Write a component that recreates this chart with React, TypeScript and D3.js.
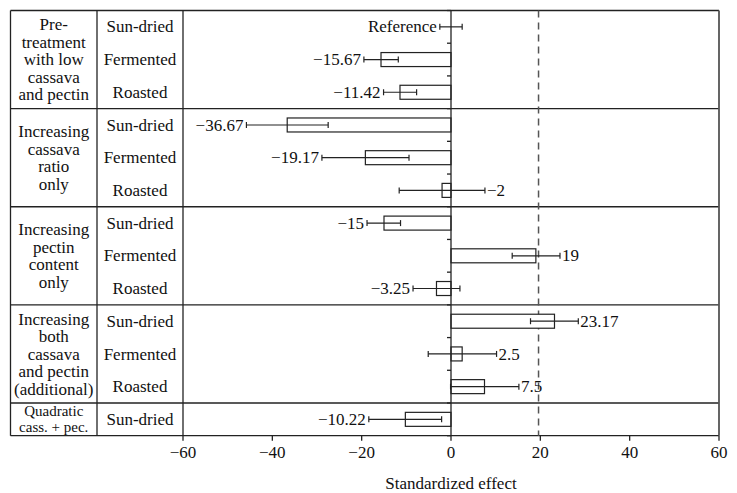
import React from "react";
import * as d3 from "d3";

const groupLabels: string[][] = [
  ["Pre-", "treatment", "with low", "cassava", "and pectin"],
  ["Increasing", "cassava", "ratio", "only"],
  ["Increasing", "pectin", "content", "only"],
  ["Increasing", "both", "cassava", "and pectin", "(additional)"],
  ["Quadratic", "cass. + pec."],
];
const groupSizes = [3, 3, 3, 3, 1];
const treatments = [
  "Sun-dried", "Fermented", "Roasted",
  "Sun-dried", "Fermented", "Roasted",
  "Sun-dried", "Fermented", "Roasted",
  "Sun-dried", "Fermented", "Roasted",
  "Sun-dried",
];
const effects = [0, -15.67, -11.42, -36.67, -19.17, -2, -15, 19, -3.25, 23.17, 2.5, 7.5, -10.22];
const ciLow = [-2.5, -19.5, -15.1, -45.8, -28.9, -11.6, -18.8, 13.7, -8.5, 17.8, -5.1, -0.1, -18.4];
const ciHigh = [2.5, -11.8, -7.7, -27.5, -9.4, 7.6, -11.3, 24.4, 2.0, 28.5, 10.2, 15.2, -2.1];
const valueLabels = ["Reference", "−15.67", "−11.42", "−36.67", "−19.17", "−2", "−15", "19", "−3.25", "23.17", "2.5", "7.5", "−10.22"];
const xTicks = [-60, -40, -20, 0, 20, 40, 60];
const xTickLabels = ["−60", "−40", "−20", "0", "20", "40", "60"];
const criticalValue = 19.6;
const xTitle = "Standardized effect";

const W = 737;
const H = 493;
const FONT = '"Liberation Serif"';
const INK = "#222";
const FS = 17;

export default function App() {
  const left = 10.5;
  const col1 = 97;
  const plotLeft = 183;
  const plotRight = 719;
  const top = 10.5;
  const bottom = 435.7;

  const x = d3.scaleLinear().domain([-60, 60]).range([plotLeft, plotRight]);
  const y = d3
    .scaleBand<number>()
    .domain(d3.range(effects.length))
    .range([top, bottom])
    .padding(0);
  const bw = y.bandwidth();
  const barH = 14;
  const capH = 6;

  const starts: number[] = [];
  let acc = 0;
  groupSizes.forEach((s) => {
    starts.push(acc);
    acc += s;
  });

  const ts = { fontFamily: FONT };

  return (
    <svg width={W} height={H} style={{ position: "absolute", left: 0, top: 0, background: "#fff" }}>
      {/* group separators */}
      {starts.map((s, i) => (
        <line key={"gs" + i} x1={left} x2={plotRight} y1={y(s)!} y2={y(s)!} stroke={INK} strokeWidth={1.3} />
      ))}
      <line x1={left} x2={plotRight} y1={bottom} y2={bottom} stroke={INK} strokeWidth={1.3} />
      {[left, col1, plotLeft, plotRight].map((vx, i) => (
        <line key={"v" + i} x1={vx} x2={vx} y1={top} y2={bottom} stroke={i === 3 ? "#555" : INK} strokeWidth={i === 3 ? 1.8 : 1.3} />
      ))}

      {/* group labels */}
      {groupLabels.map((lines, gi) => {
        const y0 = y(starts[gi])!;
        const y1 = y0 + groupSizes[gi] * bw;
        const cy = (y0 + y1) / 2;
        const small = lines.length <= 2;
        const lh = small ? 16 : 17.5;
        return (
          <text key={"gl" + gi} textAnchor="middle" fontSize={small ? 15 : FS} fill="#111" style={ts}>
            {lines.map((ln, li) => (
              <tspan key={li} x={(left + col1) / 2} y={cy + (li - (lines.length - 1) / 2) * lh} dy="0.33em">
                {ln}
              </tspan>
            ))}
          </text>
        );
      })}

      {/* treatment labels */}
      {treatments.map((t, i) => (
        <text key={"t" + i} x={(col1 + plotLeft) / 2} y={y(i)! + bw / 2} dy="0.33em" textAnchor="middle" fontSize={FS} fill="#111" style={ts}>
          {t}
        </text>
      ))}

      {/* dashed critical line */}
      <line x1={x(criticalValue)} x2={x(criticalValue)} y1={top} y2={bottom} stroke="#555" strokeWidth={1.5} strokeDasharray="7,5" />

      {/* bars */}
      {effects.map((v, i) => {
        const cy = y(i)! + bw / 2;
        const x0 = Math.min(x(0), x(v));
        const w = Math.abs(x(v) - x(0));
        return w > 0 ? (
          <rect key={"b" + i} x={x0} y={cy - barH / 2} width={w} height={barH} fill="#fff" stroke={INK} strokeWidth={1.2} />
        ) : null;
      })}

      {/* zero axis */}
      <line x1={x(0)} x2={x(0)} y1={top} y2={bottom} stroke={INK} strokeWidth={1.3} />
      {d3.range(effects.length + 1).map((i) => {
        const ty = i < effects.length ? y(i)! : bottom;
        return <line key={"zt" + i} x1={x(0) - 4} x2={x(0)} y1={ty} y2={ty} stroke={INK} strokeWidth={1.3} />;
      })}

      {/* error bars */}
      {effects.map((v, i) => {
        const cy = y(i)! + bw / 2;
        const lo = x(ciLow[i]);
        const hi = x(ciHigh[i]);
        return (
          <g key={"e" + i} stroke={INK} strokeWidth={1.2}>
            <line x1={lo} x2={hi} y1={cy} y2={cy} />
            <line x1={lo} x2={lo} y1={cy - capH / 2} y2={cy + capH / 2} />
            <line x1={hi} x2={hi} y1={cy - capH / 2} y2={cy + capH / 2} />
          </g>
        );
      })}

      {/* value labels */}
      {valueLabels.map((lab, i) => {
        const cy = y(i)! + bw / 2;
        const right = ciHigh[i] > 5;
        return (
          <text
            key={"vl" + i}
            x={right ? x(ciHigh[i]) + 2 : x(ciLow[i]) - 3}
            y={cy}
            dy="0.33em"
            textAnchor={right ? "start" : "end"}
            fontSize={FS}
            fill="#111"
            style={ts}
          >
            {lab}
          </text>
        );
      })}

      {/* x axis ticks */}
      {xTicks.map((t, i) => (
        <g key={"xt" + i}>
          <line x1={x(t)} x2={x(t)} y1={bottom} y2={bottom + 5} stroke={INK} strokeWidth={1.3} />
          <text x={x(t)} y={bottom + 22} textAnchor="middle" fontSize={FS} fill="#111" style={ts}>
            {xTickLabels[i]}
          </text>
        </g>
      ))}
      <text x={x(0)} y={489} textAnchor="middle" fontSize={FS} fill="#111" style={ts}>
        {xTitle}
      </text>
    </svg>
  );
}
